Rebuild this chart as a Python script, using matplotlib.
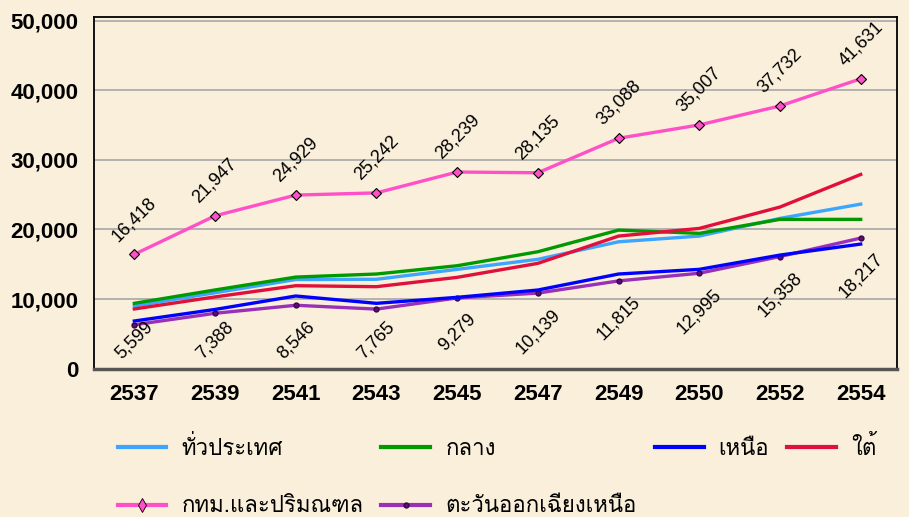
import matplotlib
matplotlib.use("Agg")
import matplotlib.pyplot as plt
from matplotlib import font_manager as fm
from matplotlib.ft2font import FT2Font
from matplotlib.lines import Line2D

years = ["2537", "2539", "2541", "2543", "2545", "2547", "2549", "2550", "2552", "2554"]

whole_kingdom = [9000, 10900, 12800, 12830, 14260, 15700, 18220, 19040, 21580, 23630]
central = [9380, 11300, 13150, 13590, 14780, 16790, 19900, 19430, 21440, 21440]
north = [6840, 8500, 10430, 9380, 10240, 11290, 13590, 14260, 16310, 17890]
south = [8570, 10300, 11910, 11770, 13110, 15120, 19040, 20140, 23210, 27890]
bangkok = [16418, 21947, 24929, 25242, 28239, 28135, 33088, 35007, 37732, 41631]
northeast = [6300, 7950, 9100, 8550, 10150, 10850, 12600, 13700, 16100, 18750]
northeast_labels = [5599, 7388, 8546, 7765, 9279, 10139, 11815, 12995, 15358, 18217]

names = ["ทั่วประเทศ", "กลาง", "เหนือ", "ใต้", "กทม.และปริมณฑล", "ตะวันออกเฉียงเหนือ"]

# find a font that has Thai glyphs
thai_font = None
for f in fm.fontManager.ttflist:
    try:
        if 0x0E01 in FT2Font(f.fname).get_charmap():
            thai_font = f.name
            break
    except Exception:
        pass

BG = "#F9EFDA"
plt.rcParams["font.family"] = ["Liberation Sans", "DejaVu Sans"]

fig = plt.figure(figsize=(9.09, 5.17), dpi=100, facecolor=BG)
ax = fig.add_axes([0.1034, 0.287, 0.8834, 0.680])
ax.set_facecolor(BG)

x = range(len(years))
lw = 2.4
ax.plot(x, whole_kingdom, color="#3BA5FF", lw=lw, zorder=3)
ax.plot(x, central, color="#009A00", lw=lw, zorder=3)
ax.plot(x, north, color="#0000FF", lw=lw, zorder=4)
ax.plot(x, south, color="#E0103A", lw=lw, zorder=3)
ax.plot(x, bangkok, color="#FF50C8", lw=lw, marker="D", ms=5.5,
        mfc="#FF50C8", mec="black", mew=0.8, zorder=5)
ax.plot(x, northeast, color="#9A30B8", lw=lw, marker="o", ms=3.5,
        mfc="#5A1070", mec="#3A0050", zorder=3)

for i, v in enumerate(bangkok):
    ax.annotate(f"{v:,}", (i, v), xytext=(0, 7), textcoords="offset points",
                rotation=45, ha="center", va="bottom", fontsize=13)
for i, (v, lab) in enumerate(zip(northeast, northeast_labels)):
    if v < 9500:
        ax.annotate(f"{lab:,}", (i, 0), xytext=(0, 5), textcoords="offset points",
                    rotation=45, ha="center", va="bottom", fontsize=13)
    else:
        ax.annotate(f"{lab:,}", (i, v), xytext=(0, -9), textcoords="offset points",
                    rotation=45, ha="center", va="top", fontsize=13)

ax.set_xlim(-0.5, 9.45)
ax.set_ylim(0, 50500)
ax.set_yticks(range(0, 50001, 10000))
ax.set_yticklabels([f"{t:,}" for t in range(0, 50001, 10000)])
ax.set_xticks(list(x))
ax.set_xticklabels(years)
ax.tick_params(length=0, labelsize=16, pad=11)
for lab in ax.get_xticklabels() + ax.get_yticklabels():
    lab.set_fontweight("bold")
ax.grid(axis="y", color="#A8A8A8", lw=1.2)
ax.set_axisbelow(True)
for s in ["left", "top", "right"]:
    ax.spines[s].set_linewidth(1.3)
ax.spines["bottom"].set_linewidth(2.5)
ax.spines["bottom"].set_color("#555555")

handles = [
    Line2D([], [], color="#3BA5FF", lw=3),
    Line2D([], [], color="#FF50C8", lw=3, marker="d", ms=7, mfc="#FF50C8", mec="black", mew=0.6),
    Line2D([], [], color="#009A00", lw=3),
    Line2D([], [], color="#9A30B8", lw=3, marker="o", ms=3.5, mfc="#5A1070", mec="#3A0050"),
    Line2D([], [], color="#0000FF", lw=3),
    Line2D([], [], color="#E0103A", lw=3),
]
labels = [names[0], names[4], names[1], names[5], names[2], names[3]]
prop = {"size": 16}
if thai_font:
    prop["family"] = thai_font
fig.legend(handles, labels, loc="upper left", bbox_to_anchor=(0.122, 0.170),
           ncol=4, frameon=False, prop=prop, handlelength=2.2, handletextpad=0.68,
           columnspacing=0.8, labelspacing=1.65, borderaxespad=0, borderpad=0.3)

fig.savefig("out.png", dpi=100, facecolor=BG)
